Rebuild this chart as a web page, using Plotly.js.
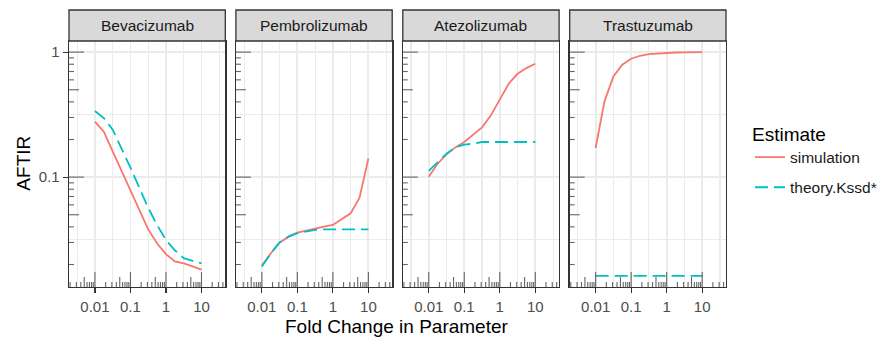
<!DOCTYPE html>
<html>
<head>
<meta charset="utf-8">
<script src="https://cdn.plot.ly/plotly-3.0.1.min.js"></script>
<style>
  html, body { margin: 0; padding: 0; background: #ffffff; }
  #chart { width: 882px; height: 338px; }
</style>
</head>
<body>
<div id="chart"></div>
<script>
// Fold change applied to the parameter (log-spaced, quarter decades)
const foldChange = [0.01, 0.01778, 0.03162, 0.05623, 0.1, 0.1778, 0.3162, 0.5623, 1, 1.778, 3.162, 5.623, 10];

const drugs = ["Bevacizumab", "Pembrolizumab", "Atezolizumab", "Trastuzumab"];

// AFTIR from simulation, per drug
const simBevacizumab   = [0.278, 0.231, 0.161, 0.112, 0.0773, 0.0535, 0.0382, 0.0294, 0.0242, 0.0212, 0.0204, 0.0193, 0.0182];
const simPembrolizumab = [0.0195, 0.0245, 0.0299, 0.0334, 0.0360, 0.0375, 0.0387, 0.0402, 0.0414, 0.0459, 0.0513, 0.0684, 0.141];
const simAtezolizumab  = [0.1006, 0.128, 0.152, 0.173, 0.191, 0.219, 0.250, 0.312, 0.422, 0.559, 0.671, 0.745, 0.807];
const simTrastuzumab   = [0.171, 0.404, 0.640, 0.792, 0.885, 0.935, 0.963, 0.977, 0.989, 0.993, 0.997, 1.0, 1.0];

// AFTIR from theory (Kssd*), per drug
const thBevacizumab    = [0.338, 0.297, 0.240, 0.171, 0.119, 0.0822, 0.0569, 0.0414, 0.0314, 0.0260, 0.0225, 0.0214, 0.0204];
const thPembrolizumab  = [0.0193, 0.0245, 0.0300, 0.0334, 0.0356, 0.0369, 0.0378, 0.0382, 0.0382, 0.0382, 0.0382, 0.0382, 0.0382];
const thAtezolizumab   = [0.112, 0.132, 0.154, 0.173, 0.182, 0.185, 0.191, 0.191, 0.191, 0.191, 0.191, 0.191, 0.191];
const thTrastuzumab    = [0.0162, 0.0162, 0.0162, 0.0162, 0.0162, 0.0162, 0.0162, 0.0162, 0.0162, 0.0162, 0.0162, 0.0162, 0.0162];

const simSeries = [simBevacizumab, simPembrolizumab, simAtezolizumab, simTrastuzumab];
const theorySeries = [thBevacizumab, thPembrolizumab, thAtezolizumab, thTrastuzumab];

// Axis breaks
const xBreaks = [0.01, 0.1, 1, 10];
const xBreakLabels = ["0.01", "0.1", "1", "10"];
const xMinorBreaks = [0.003162, 0.03162, 0.3162, 3.162, 31.62];
const yBreaks = [0.1, 1];
const yBreakLabels = ["0.1", "1"];
const yMinorBreaks = [0.03162, 0.3162];

const xRange = [-2.73, 1.67];   // log10 units
const yRange = [-1.879, 0.089]; // log10 units

const simColor = "#F8766D";
const theoryColor = "#00BFC4";
const font = "Liberation Sans, Arial, sans-serif";

// geometry of the facet row
const nPanels = drugs.length;
const gapFrac = 10.6 / 657;
const panelFrac = (1 - gapFrac * (nPanels - 1)) / nPanels;
const yTop = 246 / 277;

const traces = [];
const layout = {
  width: 882, height: 338,
  margin: { l: 69, r: 156, t: 10, b: 51, autoexpand: false },
  paper_bgcolor: "#ffffff",
  plot_bgcolor: "#ffffff",
  font: { family: font, color: "#4d4d4d" },
  showlegend: true,
  legend: {
    x: 1.0365, xanchor: "left",
    y: 0.618, yanchor: "top",
    bgcolor: "rgba(0,0,0,0)",
    font: { family: font, size: 15.5, color: "#1a1a1a" },
    title: { text: "Estimate", font: { family: font, size: 19, color: "#000000" } },
    itemwidth: 30,
    tracegroupgap: 7,
    traceorder: "grouped"
  },
  shapes: [],
  annotations: []
};

// log tick marks (annotation_logticks style): long at decades, mid at 5s, short elsewhere
function tickLength(v) {
  const m = Math.round(v / Math.pow(10, Math.floor(Math.log10(v) + 1e-9)));
  return m === 1 ? 15 : (m === 5 ? 10 : 5);
}
function logTickValues(lo, hi) {
  const out = [];
  for (let e = Math.floor(lo) - 1; e <= Math.ceil(hi); e++) {
    for (let m = 1; m <= 9; m++) {
      const v = m * Math.pow(10, e);
      const lv = Math.log10(v);
      if (lv > lo + 0.005 && lv < hi - 0.005) out.push(v);
    }
  }
  return out;
}
const xLogTicks = logTickValues(xRange[0], xRange[1]);
const yLogTicks = logTickValues(yRange[0], yRange[1]);

for (let i = 0; i < nPanels; i++) {
  const k = i === 0 ? "" : String(i + 1);
  const xName = "x" + k, yName = "y" + k;
  const d0 = i * (panelFrac + gapFrac);
  const d1 = d0 + panelFrac;

  layout["xaxis" + k] = {
    type: "log", range: xRange, domain: [d0, d1], anchor: yName,
    tickmode: "array", tickvals: xBreaks, ticktext: xBreakLabels,
    ticks: "outside", ticklen: 5, tickwidth: 1.2, tickcolor: "#333333",
    ticklabelstandoff: 1,
    tickfont: { family: font, size: 15, color: "#4d4d4d" },
    showgrid: true, gridcolor: "#ebebeb", gridwidth: 1.8,
    minor: { tickmode: "array", tickvals: xMinorBreaks, showgrid: true, gridcolor: "#ebebeb", gridwidth: 1.1, ticks: "" },
    showline: true, mirror: true, linecolor: "#333333", linewidth: 1.3,
    zeroline: false, fixedrange: true
  };
  layout["yaxis" + k] = {
    type: "log", range: yRange, domain: [0, yTop], anchor: xName,
    tickmode: "array", tickvals: yBreaks, ticktext: yBreakLabels,
    ticks: i === 0 ? "outside" : "", ticklen: 5, tickwidth: 1.2, tickcolor: "#333333",
    showticklabels: i === 0,
    tickfont: { family: font, size: 15, color: "#4d4d4d" },
    showgrid: true, gridcolor: "#ebebeb", gridwidth: 1.8,
    minor: { tickmode: "array", tickvals: yMinorBreaks, showgrid: true, gridcolor: "#ebebeb", gridwidth: 1.1, ticks: "" },
    showline: true, mirror: true, linecolor: "#333333", linewidth: 1.3,
    zeroline: false, fixedrange: true
  };

  // strip with the drug name
  layout.shapes.push({
    type: "rect", xref: xName + " domain", yref: "paper",
    x0: 0, x1: 1, y0: yTop, y1: 1,
    fillcolor: "#d9d9d9", line: { color: "#333333", width: 1.3 }, layer: "above"
  });
  layout.annotations.push({
    xref: xName + " domain", yref: "paper", x: 0.5, y: (yTop + 1) / 2,
    xanchor: "center", yanchor: "middle", showarrow: false,
    text: drugs[i], font: { family: font, size: 15.5, color: "#1a1a1a" }
  });

  // bottom log ticks
  xLogTicks.forEach(v => {
    layout.shapes.push({
      type: "line", xref: xName, yref: yName + " domain", layer: "above",
      x0: v, x1: v,
      ysizemode: "pixel", yanchor: 0, y0: 0, y1: tickLength(v),
      line: { color: "#666666", width: 1.1 }
    });
  });
  // left log ticks
  yLogTicks.forEach(v => {
    layout.shapes.push({
      type: "line", xref: xName + " domain", yref: yName, layer: "above",
      y0: v, y1: v,
      xsizemode: "pixel", xanchor: 0, x0: 0, x1: tickLength(v),
      line: { color: "#666666", width: 1.1 }
    });
  });

  traces.push({
    type: "scatter", mode: "lines", x: foldChange, y: simSeries[i],
    xaxis: xName, yaxis: yName,
    name: "simulation", legendgroup: "simulation", showlegend: i === 0,
    line: { color: simColor, width: 1.8 }, hoverinfo: "skip"
  });
  traces.push({
    type: "scatter", mode: "lines", x: foldChange, y: theorySeries[i],
    xaxis: xName, yaxis: yName,
    name: "theory.Kssd*", legendgroup: "theory", showlegend: i === 0,
    line: { color: theoryColor, width: 1.8, dash: "13px,6px" }, hoverinfo: "skip"
  });
}

// shared axis titles
layout.annotations.push({
  xref: "paper", yref: "paper", x: 0.4992, y: -0.1425,
  xanchor: "center", yanchor: "middle", showarrow: false,
  text: "Fold Change in Parameter", font: { family: font, size: 19, color: "#000000" }
});
layout.annotations.push({
  xref: "paper", yref: "paper", x: -0.0695, y: 0.4466,
  xanchor: "center", yanchor: "middle", showarrow: false, textangle: -90,
  text: "AFTIR", font: { family: font, size: 19, color: "#000000" }
});

Plotly.newPlot("chart", traces, layout, { displayModeBar: false, staticPlot: true });
</script>
</body>
</html>
